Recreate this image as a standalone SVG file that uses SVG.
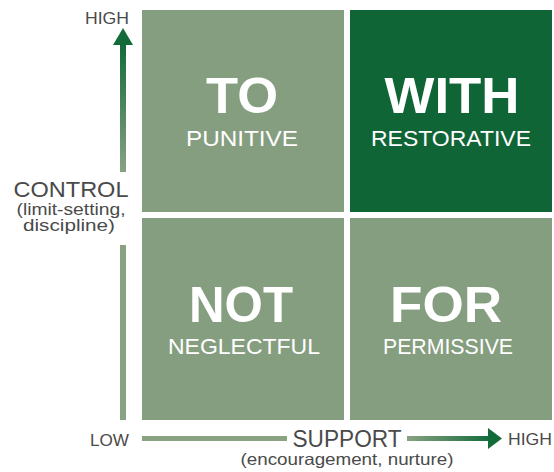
<svg xmlns="http://www.w3.org/2000/svg" width="554" height="472" viewBox="0 0 554 472">
<defs>
<style>
.light{fill:#869e80}
.dark{fill:#0f6535}
.big{font-family:"Liberation Sans",Arial,sans-serif;font-weight:bold;font-size:50px;fill:#ffffff;text-anchor:middle}
.sub{font-family:"Liberation Sans",Arial,sans-serif;font-size:22px;fill:#ffffff;text-anchor:middle}
.lab{font-family:"Liberation Sans",Arial,sans-serif;fill:#4a4a4a}
</style>
<linearGradient id="gv" x1="0" y1="45" x2="0" y2="172" gradientUnits="userSpaceOnUse">
<stop offset="0" stop-color="#146b3a"/>
<stop offset="1" stop-color="#88a282"/>
</linearGradient>
<linearGradient id="gh" x1="407" y1="0" x2="490" y2="0" gradientUnits="userSpaceOnUse">
<stop offset="0" stop-color="#88a282"/>
<stop offset="1" stop-color="#146b3a"/>
</linearGradient>
</defs>
<rect width="554" height="472" fill="#ffffff"/>
<g id="to">
<rect class="light" x="142" y="10" width="202" height="202"/>
<text class="big" x="242" y="113" textLength="72" lengthAdjust="spacingAndGlyphs">TO</text>
<text class="sub" x="242" y="146" textLength="112" lengthAdjust="spacingAndGlyphs">PUNITIVE</text>
</g>
<g id="with">
<rect class="dark" x="350" y="10" width="202" height="202"/>
<text class="big" x="452" y="113" textLength="135" lengthAdjust="spacingAndGlyphs">WITH</text>
<text class="sub" x="451" y="146" textLength="160" lengthAdjust="spacingAndGlyphs">RESTORATIVE</text>
</g>
<g id="not">
<rect class="light" x="142" y="218" width="202" height="202"/>
<text class="big" x="241" y="322" textLength="104" lengthAdjust="spacingAndGlyphs">NOT</text>
<text class="sub" x="244" y="354" textLength="152" lengthAdjust="spacingAndGlyphs">NEGLECTFUL</text>
</g>
<g id="for">
<rect class="light" x="350" y="218" width="202" height="202"/>
<text class="big" x="446" y="322" textLength="112" lengthAdjust="spacingAndGlyphs">FOR</text>
<text class="sub" x="448" y="354" textLength="130" lengthAdjust="spacingAndGlyphs">PERMISSIVE</text>
</g>
<g id="connectors">
<polygon points="123,28 133,45 113,45" fill="#146b3a"/>
<rect x="120" y="44" width="6" height="128" fill="url(#gv)"/>
<rect x="120" y="245" width="6" height="175" fill="#88a282"/>
<rect x="142" y="436" width="145" height="5" fill="#88a282"/>
<rect x="407" y="436" width="82" height="5" fill="url(#gh)"/>
<polygon points="488,428 502,438.5 488,449" fill="#146b3a"/>
</g>
<g id="axis-labels">
<text class="lab" x="129" y="24" font-size="16.5" text-anchor="end" textLength="44" lengthAdjust="spacingAndGlyphs">HIGH</text>
<text class="lab" x="71" y="197" font-size="21.5" text-anchor="middle" textLength="115" lengthAdjust="spacingAndGlyphs">CONTROL</text>
<text class="lab" x="71" y="215" font-size="16" text-anchor="middle" textLength="109" lengthAdjust="spacingAndGlyphs">(limit-setting,</text>
<text class="lab" x="69" y="231" font-size="16" text-anchor="middle" textLength="92" lengthAdjust="spacingAndGlyphs">discipline)</text>
<text class="lab" x="129" y="446" font-size="16.5" text-anchor="end" textLength="39" lengthAdjust="spacingAndGlyphs">LOW</text>
<text class="lab" x="347" y="447" font-size="23" text-anchor="middle" textLength="109" lengthAdjust="spacingAndGlyphs">SUPPORT</text>
<text class="lab" x="347" y="465" font-size="16.5" text-anchor="middle" textLength="213" lengthAdjust="spacingAndGlyphs">(encouragement, nurture)</text>
<text class="lab" x="508" y="445" font-size="16.5" textLength="44" lengthAdjust="spacingAndGlyphs">HIGH</text>
</g>
</svg>
